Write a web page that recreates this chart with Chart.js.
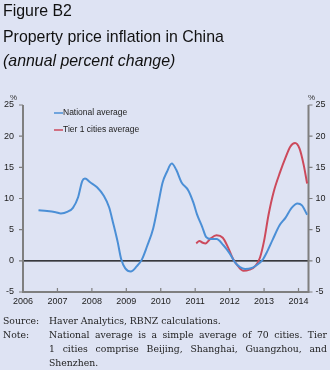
<!DOCTYPE html>
<html>
<head>
<meta charset="utf-8">
<script src="https://cdn.jsdelivr.net/npm/chart.js@4"></script>
<style>
  body { margin: 0; background: #dee3f3; }
  #wrap { position: relative; width: 330px; height: 370px; background: #dee3f3; overflow: hidden; }
  #c { position: absolute; left: 0; top: 0; }
  .t { position: absolute; left: 3px; font-family: "Liberation Sans", Arial, sans-serif; font-size: 15.9px; color: #111; white-space: nowrap; }
  .pct { position: absolute; font-family: "Liberation Sans", Arial, sans-serif; font-size: 8px; color: #333; }
  .foot { position: absolute; font-family: "DejaVu Serif", serif; font-size: 9.3px; color: #222; line-height: 14px; white-space: nowrap; }
  .just { position: absolute; left: 49px; width: 278px; font-family: "DejaVu Serif", serif; font-size: 9.3px; color: #222; line-height: 14px; text-align: justify; text-align-last: justify; white-space: nowrap; }
</style>
</head>
<body>
<div id="wrap">
  <canvas id="c" width="330" height="370"></canvas>
  <div class="t" style="top:2px">Figure B2</div>
  <div class="t" style="top:28px">Property price inflation in China</div>
  <div class="t" style="top:52px;font-style:italic">(annual percent change)</div>
  <div class="pct" style="left:10px;top:93px">%</div>
  <div class="pct" style="left:308px;top:93px">%</div>
  <div class="foot" style="left:3px;top:314px">Source:</div>
  <div class="foot" style="left:49px;top:314px">Haver Analytics, RBNZ calculations.</div>
  <div class="foot" style="left:3px;top:328px">Note:</div>
  <div class="just" style="top:328px">National average is a simple average of 70 cities. Tier</div>
  <div class="just" style="top:342px">1 cities comprise Beijing, Shanghai, Guangzhou, and</div>
  <div class="foot" style="left:49px;top:356px">Shenzhen.</div>
</div>
<script>
// values (x = decimal year)
var nationalX = [2006.45,2006.7,2006.95,2007.1,2007.3,2007.45,2007.6,2007.72,2007.8,2007.95,2008.15,2008.35,2008.5,2008.62,2008.75,2008.85,2008.97,2009.13,2009.3,2009.45,2009.6,2009.78,2009.93,2010.05,2010.18,2010.32,2010.45,2010.6,2010.8,2010.95,2011.05,2011.2,2011.32,2011.45,2011.62,2011.82,2012.0,2012.15,2012.3,2012.45,2012.62,2012.78,2012.95,2013.1,2013.25,2013.45,2013.62,2013.8,2013.97,2014.1,2014.25];
var nationalY = [8.1,8.0,7.8,7.6,7.9,8.5,10.2,12.8,13.2,12.6,11.8,10.4,8.6,6.0,3.0,0.3,-1.2,-1.7,-0.9,0.2,2.3,5.2,9.2,12.5,14.3,15.6,14.6,12.6,11.3,9.3,7.5,5.5,3.8,3.5,3.5,2.5,1.2,-0.2,-1.0,-1.3,-1.2,-0.7,0.1,1.6,3.4,5.7,6.9,8.5,9.2,8.9,7.4];
var tier1X = [2011.03,2011.12,2011.22,2011.3,2011.45,2011.62,2011.8,2011.95,2012.1,2012.25,2012.4,2012.58,2012.75,2012.88,2013.0,2013.13,2013.28,2013.47,2013.62,2013.76,2013.9,2014.03,2014.15,2014.25];
var tier1Y = [2.8,3.2,2.9,2.8,3.6,4.1,3.7,2.2,0.3,-0.9,-1.6,-1.4,-0.8,0.5,3.2,7.4,11.1,14.3,16.5,18.3,18.9,18.0,15.4,12.4];
var years = [2006,2007,2008,2009,2010,2011,2012,2013,2014];
var yTicks = [-5,0,5,10,15,20,25];

function pts(xs, ys){ return xs.map(function(x,i){ return {x:x, y:ys[i]}; }); }

var axisColor = '#7f7f7f';
var tickFont = {family:'Liberation Sans, Arial, sans-serif', size:9};

var extras = {
  id: 'extras',
  beforeDatasetsDraw: function(chart){
    var ctx = chart.ctx, a = chart.chartArea, x = chart.scales.x, y = chart.scales.y;
    ctx.save();
    // zero line
    ctx.strokeStyle = '#000'; ctx.lineWidth = 1.2;
    var y0 = y.getPixelForValue(0);
    ctx.beginPath(); ctx.moveTo(a.left, y0); ctx.lineTo(a.right, y0); ctx.stroke();
    // axes
    ctx.strokeStyle = axisColor; ctx.lineWidth = 2;
    ctx.beginPath();
    ctx.moveTo(a.left, a.top); ctx.lineTo(a.left, a.bottom); ctx.lineTo(a.right, a.bottom); ctx.lineTo(a.right, a.top);
    ctx.stroke();
    ctx.lineWidth = 1.2;
    ctx.beginPath();
    years.forEach(function(v){ var px = x.getPixelForValue(v); ctx.moveTo(px, a.bottom); ctx.lineTo(px, a.bottom - 4); });
    yTicks.forEach(function(v){ var py = y.getPixelForValue(v);
      ctx.moveTo(a.left - 4, py); ctx.lineTo(a.left, py);
      ctx.moveTo(a.right, py); ctx.lineTo(a.right + 4, py); });
    ctx.stroke();
    ctx.restore();
  },
  afterDraw: function(chart){
    var ctx = chart.ctx;
    ctx.save();
    ctx.font = '8.5px "Liberation Sans", Arial, sans-serif';
    ctx.textBaseline = 'middle';
    chart.data.datasets.forEach(function(ds, i){
      var ly = 113 + i * 17;
      ctx.strokeStyle = ds.borderColor; ctx.lineWidth = 1.5;
      ctx.beginPath(); ctx.moveTo(54, ly); ctx.lineTo(63, ly); ctx.stroke();
      ctx.fillStyle = '#222';
      ctx.fillText(ds.label, 63, ly);
    });
    ctx.restore();
  }
};

new Chart(document.getElementById('c'), {
  type: 'line',
  data: {
    datasets: [
      {label:'National average', data: pts(nationalX, nationalY), borderColor:'#4b8fd6', borderWidth:2, pointRadius:0, cubicInterpolationMode:'monotone'},
      {label:'Tier 1 cities average', data: pts(tier1X, tier1Y), borderColor:'#cc4a5c', borderWidth:2, pointRadius:0, cubicInterpolationMode:'monotone'}
    ]
  },
  options: {
    responsive: false,
    animation: false,
    layout: {padding: {top: 105, bottom: 58, left: 0, right: 0}},
    plugins: {legend: {display:false}, tooltip: {enabled:false}},
    scales: {
      x: {type:'linear', min:2006, max:2014.29,
          afterBuildTicks: function(s){ s.ticks = years.map(function(v){ return {value:v}; }); },
          afterFit: function(s){ s.height = 20; },
          grid:{display:false, drawTicks:false}, border:{display:false},
          ticks:{font:tickFont, color:'#222', padding:4, maxRotation:0, callback:function(v){ return String(v); }}},
      y: {position:'left', min:-5, max:25,
          afterBuildTicks: function(s){ s.ticks = yTicks.map(function(v){ return {value:v}; }); },
          afterFit: function(s){ s.width = 23; },
          grid:{display:false, drawTicks:false}, border:{display:false},
          ticks:{font:tickFont, color:'#222', padding:9}},
      y2: {position:'right', min:-5, max:25,
          afterBuildTicks: function(s){ s.ticks = yTicks.map(function(v){ return {value:v}; }); },
          afterFit: function(s){ s.width = 21.5; },
          grid:{display:false, drawTicks:false}, border:{display:false},
          ticks:{font:tickFont, color:'#222', padding:7}}
    }
  },
  plugins: [extras]
});
</script>
</body>
</html>
